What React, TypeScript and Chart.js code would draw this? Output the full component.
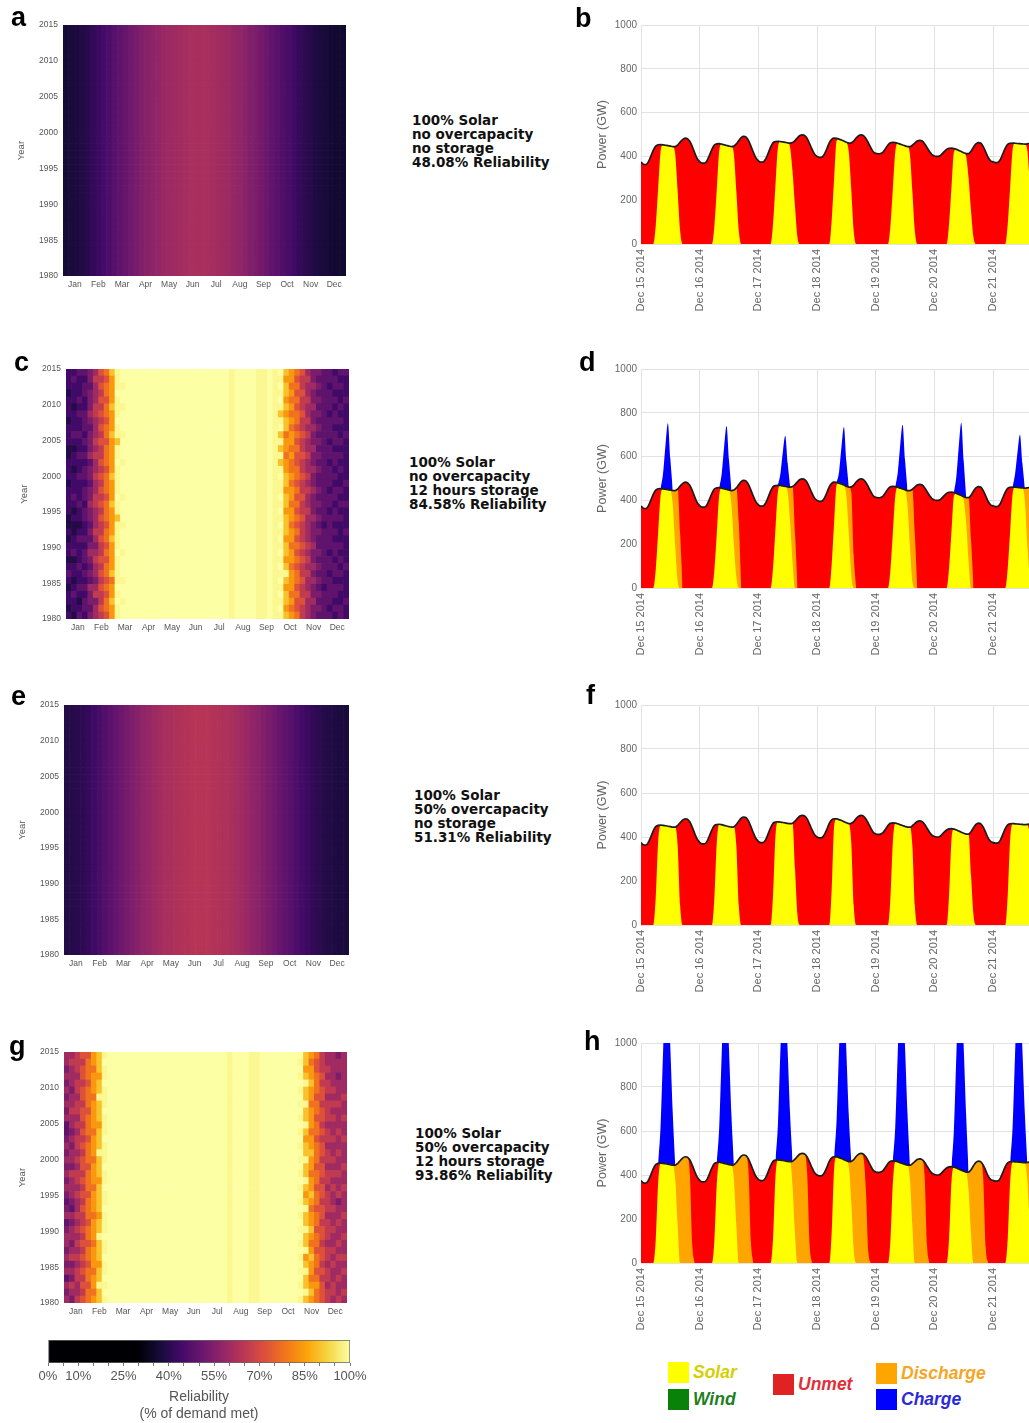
import React, { useEffect, useRef } from "react";
import { Chart, registerables } from "chart.js";

Chart.register(...registerables);
Chart.defaults.font.family = "'Liberation Sans', Arial, Helvetica, sans-serif";

const _ = null;

// ---------------- heatmap data ----------------
const MONTHS = ["Jan", "Feb", "Mar", "Apr", "May", "Jun", "Jul", "Aug", "Sep", "Oct", "Nov", "Dec"];
const YEARS = [
  1980, 1981, 1982, 1983, 1984, 1985, 1986, 1987, 1988, 1989, 1990, 1991,
  1992, 1993, 1994, 1995, 1996, 1997, 1998, 1999, 2000, 2001, 2002, 2003,
  2004, 2005, 2006, 2007, 2008, 2009, 2010, 2011, 2012, 2013, 2014, 2015,
];
const WEEK_LABELS = Array.from({ length: 52 }, (v, i) => `W${i + 1}`);

// weekly reliability (%) profile, no storage, same every year
const WEEKS_A = [
  37, 37.5, 38, 39,
  40, 41.5, 43, 44.5,
  46, 47.5, 49, 50.5, 52,
  53.5, 55, 56, 57,
  58, 59, 59.5, 60,
  60.5, 61, 61.5, 61.5, 61.5,
  61.5, 61, 60.5, 60,
  59.5, 58.5, 57.5, 56.5, 55,
  54, 52.5, 51, 49.5,
  48, 46.5, 45, 43.5,
  42, 40.5, 39.5, 38.5, 37.5,
  37, 36.5, 36, 35.5,
];
const WEEKS_E = [
  39, 39.5, 40, 41,
  42, 43.5, 45, 47,
  48.5, 50, 51.5, 53, 54.5,
  56, 57.5, 58.5, 59.5,
  60.5, 61.5, 62, 62.5,
  63, 63.5, 64, 64, 64,
  64, 63.5, 63, 62.5,
  62, 61, 60, 59, 57.5,
  56.5, 55, 53.5, 52,
  50.5, 49, 47.5, 46,
  44.5, 43, 41.5, 40.5, 39.5,
  39, 38.5, 38, 37.5,
];

// cell levels (character -> reliability %)
const LEVELS: Record<string, number> = {
  "1": 39, "2": 44, "3": 49, "4": 54, "5": 60, "6": 66,
  "7": 72, "8": 78, "9": 84, a: 90, b: 98.6, c: 100,
};

const MID_C1 = "cccccccccccccccccccc" + "b" + "cccc" + "bb" + "c" + "b";
const MID_C2 = "bccccccccccccccccccc" + "b" + "cccc" + "bb" + "c" + "b";
// rows 1980 -> 2015, 52 weekly cells each
const C_ROWS = [
  "213245679b" + MID_C1 + "ba98654333232",
  "122335789b" + MID_C1 + "c987654432332",
  "22134468ac" + MID_C2 + "ba97755333223",
  "232246679b" + MID_C1 + "ca88664433322",
  "123355789c" + MID_C1 + "b997654323332",
  "212234678b" + MID_C2 + "ca98755433222",
  "32234578ab" + MID_C1 + "bb98664332332",
  "223235689b" + MID_C1 + "ca87655433323",
  "112346779b" + MID_C1 + "b998764333232",
  "232355689c" + MID_C2 + "ca97654432322",
  "222244679b" + MID_C1 + "ba88765333332",
  "12333578ab" + MID_C1 + "c997654333222",
  "212246689b" + MID_C1 + "ba98654433323",
  "111235679b" + MID_C2 + "ca87654323222",
  "122345789a" + MID_C1 + "ba98755433332",
  "212345689b" + MID_C1 + "c997664332322",
  "22325678ab" + MID_C1 + "ba88654433233",
  "232346679c" + MID_C2 + "ca97754333322",
  "222345789b" + MID_C1 + "b998665432332",
  "122235689b" + MID_C1 + "ba87654333223",
  "22334678ab" + MID_C1 + "ca98764333322",
  "212345679b" + MID_C1 + "b988655433232",
  "222235789c" + MID_C2 + "a987654332322",
  "123356689b" + MID_C1 + "b897764433332",
  "112245689b" + MID_C1 + "a988655333222",
  "222346779a" + MID_C1 + "b997654432332",
  "23324568ab" + MID_C2 + "a898764333323",
  "222335789b" + MID_C1 + "ca87655433222",
  "122345679c" + MID_C1 + "ba98664333332",
  "223356789b" + MID_C1 + "a988754432322",
  "21224668ab" + MID_C2 + "ba97655333232",
  "223245779b" + MID_C1 + "c988664433323",
  "122345689c" + MID_C1 + "ba97754333222",
  "222335789b" + MID_C2 + "ca88655432332",
  "232246679b" + MID_C1 + "b997664333322",
  "22334578ab" + MID_C1 + "ca98754433233",
];

const MID_G = "cccccccccccccccccccccc" + "b" + "ccc" + "bb" + "ccccccc";
const G_ROWS = [
  "546789ab" + MID_G + "ba9876565",
  "455688ac" + MID_G + "cba876656",
  "565779bb" + MID_G + "ba9975655",
  "346689ac" + MID_G + "ca8866565",
  "556788ab" + MID_G + "bb9776556",
  "4456799b" + MID_G + "ca9865655",
  "566789ac" + MID_G + "b9a876566",
  "455689ab" + MID_G + "cb9776655",
  "546778ab" + MID_G + "ba8865565",
  "555689bc" + MID_G + "ca9876556",
  "456789ab" + MID_G + "bba776655",
  "345679ab" + MID_G + "ca9866565",
  "5566889b" + MID_G + "ba9875556",
  "435789ac" + MID_G + "cb8776655",
  "345689ab" + MID_G + "ba9866545",
  "456779ab" + MID_G + "c9a876565",
  "555688ac" + MID_G + "ba9775656",
  "4567899b" + MID_G + "cb9866555",
  "566689ab" + MID_G + "ba8876665",
  "445779ac" + MID_G + "ca9775556",
  "556788ab" + MID_G + "bb9866655",
  "455689bb" + MID_G + "caa876565",
  "546789ab" + MID_G + "ba9875555",
  "456679ac" + MID_G + "c99766656",
  "345788ab" + MID_G + "ba8876565",
  "3566899b" + MID_G + "cb9865555",
  "555789ab" + MID_G + "ba9776656",
  "466779ac" + MID_G + "ca9876555",
  "556689ab" + MID_G + "bb8866665",
  "455788bb" + MID_G + "ca9775556",
  "546789ab" + MID_G + "ba9876655",
  "456679ac" + MID_G + "cba866555",
  "5557899b" + MID_G + "ba9875545",
  "456788ab" + MID_G + "c99766555",
  "566689ac" + MID_G + "ba8765555",
  "556779ab" + MID_G + "ca9865545",
];

// ---------------- power time series (GW, hourly from Dec 15 2014 00:00) ----------------
const DAY_LABELS = ["Dec 15 2014", "Dec 16 2014", "Dec 17 2014", "Dec 18 2014", "Dec 19 2014", "Dec 20 2014", "Dec 21 2014"];
const DAY_TICKS = [0, 24, 48, 72, 96, 120, 144];

const DEMAND = [
  [374, 364, 363, 375, 400, 428, 447, 453, 454, 453, 451, 449, 447, 445, 445, 452, 465, 477, 483, 481, 468, 444, 415, 390],
  [376, 369, 369, 380, 405, 432, 452, 457, 458, 456, 453, 450, 447, 445, 447, 457, 472, 486, 491, 488, 472, 446, 418, 393],
  [380, 374, 375, 388, 414, 442, 462, 468, 469, 468, 466, 464, 462, 461, 463, 472, 485, 495, 498, 495, 481, 457, 432, 410],
  [400, 396, 397, 410, 435, 462, 478, 483, 482, 479, 475, 470, 465, 461, 462, 470, 484, 494, 498, 495, 482, 462, 440, 421],
  [414, 412, 413, 420, 435, 452, 462, 464, 463, 460, 456, 452, 448, 445, 445, 451, 461, 470, 473, 470, 458, 440, 422, 408],
  [402, 400, 401, 410, 422, 432, 437, 438, 436, 432, 427, 422, 417, 413, 413, 424, 442, 457, 463, 460, 445, 420, 395, 380],
  [375, 372, 373, 386, 412, 438, 455, 460, 461, 460, 459, 458, 457, 456, 457, 460],
].flat();

const SOLAR_B = [
  [0, 0, 0, 0, 0, 0, 80, 250, 420, 453, 451, 449, 447, 445, 410, 240, 60, 0, 0, 0, 0, 0, 0, 0],
  [0, 0, 0, 0, 0, 0, 80, 250, 425, 456, 453, 450, 447, 445, 410, 240, 60, 0, 0, 0, 0, 0, 0, 0],
  [0, 0, 0, 0, 0, 0, 90, 270, 440, 468, 466, 464, 462, 440, 330, 170, 30, 0, 0, 0, 0, 0, 0, 0],
  [0, 0, 0, 0, 0, 0, 110, 300, 470, 479, 475, 470, 465, 420, 250, 60, 0, 0, 0, 0, 0, 0, 0, 0],
  [0, 0, 0, 0, 0, 0, 80, 250, 420, 460, 456, 452, 448, 445, 410, 240, 60, 0, 0, 0, 0, 0, 0, 0],
  [0, 0, 0, 0, 0, 0, 90, 260, 420, 432, 427, 422, 417, 400, 300, 150, 30, 0, 0, 0, 0, 0, 0, 0],
  [0, 0, 0, 0, 0, 0, 90, 260, 430, 460, 459, 458, 457, 456, 430, 280],
].flat();

const SOLAR_D = [
  [0, 0, 0, 0, 0, 0, 80, 250, 420, 453, 451, 449, 447, 380, 190, 30, 0, 0, 0, 0, 0, 0, 0, 0],
  [0, 0, 0, 0, 0, 0, 80, 250, 425, 456, 453, 450, 447, 380, 200, 50, 0, 0, 0, 0, 0, 0, 0, 0],
  [0, 0, 0, 0, 0, 0, 90, 270, 440, 468, 466, 464, 440, 300, 120, 0, 0, 0, 0, 0, 0, 0, 0, 0],
  [0, 0, 0, 0, 0, 0, 110, 300, 470, 479, 475, 470, 420, 250, 60, 0, 0, 0, 0, 0, 0, 0, 0, 0],
  [0, 0, 0, 0, 0, 0, 80, 250, 420, 460, 456, 452, 448, 380, 190, 30, 0, 0, 0, 0, 0, 0, 0, 0],
  [0, 0, 0, 0, 0, 0, 90, 260, 420, 432, 427, 422, 400, 300, 120, 0, 0, 0, 0, 0, 0, 0, 0, 0],
  [0, 0, 0, 0, 0, 0, 90, 260, 430, 460, 459, 458, 457, 400, 200, 40],
].flat();

// top of solar + discharge
const DISCH_D = [
  [_, _, _, _, _, _, _, _, _, _, _, 449, 447, 445, 445, 452, 250, 0, _, _, _, _, _, _],
  [_, _, _, _, _, _, _, _, _, _, _, 450, 447, 445, 447, 457, 300, 0, _, _, _, _, _, _],
  [_, _, _, _, _, _, _, _, _, _, 466, 464, 462, 461, 463, 250, 0, _, _, _, _, _, _, _],
  [_, _, _, _, _, _, _, _, _, _, 475, 470, 465, 461, 440, 150, 0, _, _, _, _, _, _, _],
  [_, _, _, _, _, _, _, _, _, _, _, 452, 448, 445, 445, 451, 250, 0, _, _, _, _, _, _],
  [_, _, _, _, _, _, _, _, _, _, 427, 422, 417, 413, 413, 220, 0, _, _, _, _, _, _, _],
  [_, _, _, _, _, _, _, _, _, _, _, 458, 457, 456, 457, 460],
].flat();

// top of demand + charge
const CHARGE_D = [
  [_, _, _, _, _, _, _, _, 454, 520, 650, 752, 590, 445, _, _, _, _, _, _, _, _, _, _],
  [_, _, _, _, _, _, _, _, 458, 520, 645, 740, 585, 445, _, _, _, _, _, _, _, _, _, _],
  [_, _, _, _, _, _, _, _, 469, 520, 620, 695, 570, 461, _, _, _, _, _, _, _, _, _, _],
  [_, _, _, _, _, _, _, _, 482, 530, 645, 735, 580, 461, _, _, _, _, _, _, _, _, _, _],
  [_, _, _, _, _, _, _, _, 463, 525, 650, 745, 585, 445, _, _, _, _, _, _, _, _, _, _],
  [_, _, _, _, _, _, _, _, 436, 510, 650, 755, 580, 413, _, _, _, _, _, _, _, _, _, _],
  [_, _, _, _, _, _, _, _, 461, 520, 620, 700, 570, 456, _, _],
].flat();

const SOLAR_F = [
  [0, 0, 0, 0, 0, 0, 120, 375, 454, 453, 451, 449, 447, 445, 445, 360, 90, 0, 0, 0, 0, 0, 0, 0],
  [0, 0, 0, 0, 0, 0, 120, 375, 458, 456, 453, 450, 447, 445, 447, 360, 90, 0, 0, 0, 0, 0, 0, 0],
  [0, 0, 0, 0, 0, 0, 135, 405, 469, 468, 466, 464, 462, 461, 463, 255, 45, 0, 0, 0, 0, 0, 0, 0],
  [0, 0, 0, 0, 0, 0, 165, 450, 482, 479, 475, 470, 465, 461, 375, 90, 0, 0, 0, 0, 0, 0, 0, 0],
  [0, 0, 0, 0, 0, 0, 120, 375, 463, 460, 456, 452, 448, 445, 445, 360, 90, 0, 0, 0, 0, 0, 0, 0],
  [0, 0, 0, 0, 0, 0, 135, 390, 436, 432, 427, 422, 417, 413, 413, 225, 45, 0, 0, 0, 0, 0, 0, 0],
  [0, 0, 0, 0, 0, 0, 135, 390, 461, 460, 459, 458, 457, 456, 457, 420],
].flat();

const SOLAR_H = [
  [0, 0, 0, 0, 0, 0, 100, 360, 454, 453, 451, 449, 447, 445, 380, 170, 0, 0, 0, 0, 0, 0, 0, 0],
  [0, 0, 0, 0, 0, 0, 100, 360, 458, 456, 453, 450, 447, 445, 380, 170, 0, 0, 0, 0, 0, 0, 0, 0],
  [0, 0, 0, 0, 0, 0, 110, 390, 469, 468, 466, 464, 462, 461, 350, 130, 0, 0, 0, 0, 0, 0, 0, 0],
  [0, 0, 0, 0, 0, 0, 140, 430, 482, 479, 475, 470, 465, 440, 280, 60, 0, 0, 0, 0, 0, 0, 0, 0],
  [0, 0, 0, 0, 0, 0, 100, 360, 463, 460, 456, 452, 448, 445, 380, 170, 0, 0, 0, 0, 0, 0, 0, 0],
  [0, 0, 0, 0, 0, 0, 110, 370, 436, 432, 427, 422, 417, 413, 330, 130, 0, 0, 0, 0, 0, 0, 0, 0],
  [0, 0, 0, 0, 0, 0, 110, 370, 461, 460, 459, 458, 457, 456, 380, 170],
].flat();

const DISCH_H = [
  [_, _, _, _, _, _, _, _, _, _, _, _, 447, 445, 445, 452, 465, 477, 483, 481, 400, 80, 0, _],
  [_, _, _, _, _, _, _, _, _, _, _, _, 447, 445, 447, 457, 472, 486, 491, 488, 410, 90, 0, _],
  [_, _, _, _, _, _, _, _, _, _, _, _, 462, 461, 463, 472, 485, 495, 498, 495, 400, 80, 0, _],
  [_, _, _, _, _, _, _, _, _, _, _, _, 465, 461, 462, 470, 484, 494, 498, 480, 330, 50, 0, _],
  [_, _, _, _, _, _, _, _, _, _, _, _, 448, 445, 445, 451, 461, 470, 473, 470, 400, 80, 0, _],
  [_, _, _, _, _, _, _, _, _, _, _, _, 417, 413, 413, 424, 442, 457, 463, 460, 380, 70, 0, _],
  [_, _, _, _, _, _, _, _, _, _, _, _, 457, 456, 457, 460],
].flat();

const CHARGE_H = [
  [_, _, _, _, _, _, _, 453, 620, 950, 1250, 1260, 980, 680, 445, _, _, _, _, _, _, _, _, _],
  [_, _, _, _, _, _, _, 457, 620, 950, 1240, 1250, 970, 670, 447, _, _, _, _, _, _, _, _, _],
  [_, _, _, _, _, _, _, 468, 630, 960, 1230, 1230, 960, 670, 463, _, _, _, _, _, _, _, _, _],
  [_, _, _, _, _, _, _, 483, 650, 970, 1250, 1240, 960, 670, 462, _, _, _, _, _, _, _, _, _],
  [_, _, _, _, _, _, _, 464, 620, 950, 1250, 1250, 980, 680, 445, _, _, _, _, _, _, _, _, _],
  [_, _, _, _, _, _, _, 438, 610, 950, 1260, 1260, 980, 670, 413, _, _, _, _, _, _, _, _, _],
  [_, _, _, _, _, _, _, 460, 620, 950, 1250, 1240, 970, 680, 457, _],
].flat();

// colorbar
const CB_LABELS = [0, 10, 25, 40, 55, 70, 85, 100];
const CB_MINOR = [0, 5, 10, 15, 20, 25, 30, 35, 40, 45, 50, 55, 60, 65, 70, 75, 80, 85, 90, 95, 100];

// ---------------- colour helpers ----------------
const INFERNO = ["#000004", "#160b39", "#420a68", "#6a176e", "#932667", "#bc3754", "#dd513a", "#f37819", "#fca50a", "#f6d746", "#fcffa4"];
const CB_FLOOR = 30;

function hexToRgb(h: string) {
  return [parseInt(h.slice(1, 3), 16), parseInt(h.slice(3, 5), 16), parseInt(h.slice(5, 7), 16)];
}
function inferno(t: number) {
  const tt = Math.max(0, Math.min(1, t)) * (INFERNO.length - 1);
  const i = Math.min(INFERNO.length - 2, Math.floor(tt));
  const f = tt - i;
  const a = hexToRgb(INFERNO[i]);
  const b = hexToRgb(INFERNO[i + 1]);
  const c = a.map((v, k) => Math.round(v + (b[k] - v) * f));
  return `rgb(${c[0]},${c[1]},${c[2]})`;
}
function relColor(r: number) {
  if (r < CB_FLOOR) return "#000004";
  return inferno((r - CB_FLOOR) / (100 - CB_FLOOR));
}

const decodeRows = (rows: string[]) => rows.map((r) => r.slice(0, 52).split("").map((ch) => LEVELS[ch] ?? 100));

// ---------------- chart configs ----------------
const AX = "#555";

function heatmapConfig(rows: number[][]): any {
  const n = YEARS.length;
  const span = (YEARS[n - 1] - YEARS[0]) / n;
  const datasets = rows.map((row, i) => ({
    data: row.map(() => [YEARS[0] + i * span, YEARS[0] + (i + 1) * span]),
    backgroundColor: row.map(relColor),
    borderWidth: 0,
    grouped: false,
    barPercentage: 1,
    categoryPercentage: 1,
    xAxisID: "x",
    yAxisID: "y",
  }));
  return {
    type: "bar",
    data: { labels: WEEK_LABELS, datasets },
    options: {
      animation: false,
      responsive: false,
      events: [],
      layout: { padding: { top: 10, left: 0, right: 0, bottom: 0 } },
      plugins: { legend: { display: false }, tooltip: { enabled: false } },
      scales: {
        x: { type: "category", display: false, offset: true, grid: { display: false, drawTicks: false } },
        xm: {
          type: "category",
          labels: MONTHS,
          position: "bottom",
          offset: true,
          grid: { display: false, drawTicks: false },
          border: { display: false },
          ticks: { font: { size: 8.5 }, color: AX, padding: 4, autoSkip: false, maxRotation: 0 },
          afterFit: (s: any) => { s.height = 20; },
        },
        y: {
          type: "linear",
          min: YEARS[0],
          max: YEARS[n - 1],
          grid: { display: false, drawTicks: false },
          border: { display: false },
          ticks: { stepSize: 5, font: { size: 8.5 }, color: AX, padding: 5, callback: (v: any) => String(v) },
          title: { display: true, text: "Year", font: { size: 9.5 }, color: AX, padding: { top: 8, bottom: 0 } },
          afterFit: (s: any) => { s.width = 55; },
        },
      },
    },
  };
}

const xy = (arr: (number | null)[]) => arr.map((v, i) => ({ x: i, y: v }));

function areaSet(label: string, arr: (number | null)[], color: string, order: number) {
  return {
    label,
    data: xy(arr),
    fill: "origin",
    backgroundColor: color,
    borderColor: "rgba(0,0,0,0)",
    borderWidth: 0,
    pointRadius: 0,
    pointHoverRadius: 0,
    cubicInterpolationMode: "monotone",
    spanGaps: false,
    order,
  };
}

function powerConfig(solar: number[], disch: (number | null)[] | null, charge: (number | null)[] | null): any {
  const datasets: any[] = [];
  if (charge) datasets.push(areaSet("Charge", charge, "#0000ff", 5));
  datasets.push(areaSet("Unmet", DEMAND, "#ff0000", 4));
  if (disch) datasets.push(areaSet("Discharge", disch, "#ffa500", 3));
  datasets.push(areaSet("Solar", solar, "#ffff00", 2));
  datasets.push({
    label: "Demand",
    data: xy(DEMAND),
    fill: false,
    borderColor: "#1c1c1c",
    borderWidth: 1.7,
    pointRadius: 0,
    pointHoverRadius: 0,
    cubicInterpolationMode: "monotone",
    order: 1,
  });
  return {
    type: "line",
    data: { datasets },
    options: {
      animation: false,
      responsive: false,
      events: [],
      layout: { padding: { top: 10, left: 0, right: 0, bottom: 0 } },
      plugins: { legend: { display: false }, tooltip: { enabled: false } },
      scales: {
        x: {
          type: "linear",
          min: 0,
          max: 158.7,
          afterBuildTicks: (s: any) => { s.ticks = DAY_TICKS.map((v) => ({ value: v })); },
          ticks: {
            callback: (v: any, i: number) => DAY_LABELS[i],
            minRotation: 90,
            maxRotation: 90,
            autoSkip: false,
            font: { size: 11 },
            color: "#666",
            padding: 5,
          },
          grid: { color: "#e2e2e2", drawTicks: false },
          border: { display: false },
          afterFit: (s: any) => { s.height = 70; },
        },
        y: {
          type: "linear",
          min: 0,
          max: 1000,
          ticks: { stepSize: 200, font: { size: 10 }, color: "#666", padding: 4, callback: (v: any) => String(v) },
          grid: { color: "#e2e2e2", drawTicks: false },
          border: { display: false },
          title: { display: true, text: "Power (GW)", font: { size: 12.5 }, color: "#666", padding: { top: 4, bottom: 0 } },
          afterFit: (s: any) => { s.width = 50; },
        },
      },
    },
  };
}

function colorbarConfig(): any {
  return {
    type: "bar",
    data: {
      labels: [""],
      datasets: [
        {
          data: [[0, 100]],
          backgroundColor: (ctx: any) => {
            const chart = ctx.chart;
            const area = chart.chartArea;
            if (!area) return "#000";
            const g = chart.ctx.createLinearGradient(area.left, 0, area.right, 0);
            g.addColorStop(0, "#000004");
            g.addColorStop(CB_FLOOR / 100, "#000004");
            INFERNO.forEach((c, k) => {
              g.addColorStop((CB_FLOOR + ((100 - CB_FLOOR) * k) / (INFERNO.length - 1)) / 100, c);
            });
            return g;
          },
          borderColor: "#666",
          borderWidth: 1,
          borderSkipped: false,
          barPercentage: 1,
          categoryPercentage: 1,
        },
      ],
    },
    options: {
      indexAxis: "y",
      animation: false,
      responsive: false,
      events: [],
      layout: { padding: { top: 5, left: 18, right: 25, bottom: 0 } },
      plugins: { legend: { display: false }, tooltip: { enabled: false } },
      scales: {
        y: { display: false },
        x: {
          type: "linear",
          min: 0,
          max: 100,
          afterBuildTicks: (s: any) => { s.ticks = CB_MINOR.map((v) => ({ value: v })); },
          ticks: {
            callback: (v: any) => (CB_LABELS.includes(v) ? `${v}%` : ""),
            autoSkip: false,
            maxRotation: 0,
            font: { size: 13 },
            color: AX,
            padding: 3,
          },
          grid: { display: true, drawOnChartArea: false, drawTicks: true, tickLength: 3, color: "#777" },
          border: { display: false },
          title: {
            display: true,
            text: ["Reliability", "(% of demand met)"],
            font: { size: 14, lineHeight: 1.25 },
            color: AX,
            padding: { top: 2, bottom: 0 },
          },
          afterFit: (s: any) => { s.height = 60; },
        },
      },
    },
  };
}

// ---------------- components ----------------
function ChartBox({ make, left, top, width, height }: { make: () => any; left: number; top: number; width: number; height: number }) {
  const ref = useRef<HTMLCanvasElement>(null);
  useEffect(() => {
    if (!ref.current) return;
    const chart = new Chart(ref.current, make());
    return () => chart.destroy();
  }, []);
  return (
    <canvas
      ref={ref}
      width={width}
      height={height}
      style={{ position: "absolute", left, top, width, height, display: "block" }}
    />
  );
}

const PANEL_LETTERS = [
  { t: "a", left: 11, top: 4 },
  { t: "b", left: 575, top: 5 },
  { t: "c", left: 14, top: 349 },
  { t: "d", left: 579, top: 349 },
  { t: "e", left: 11, top: 683 },
  { t: "f", left: 586, top: 682 },
  { t: "g", left: 9, top: 1033 },
  { t: "h", left: 584, top: 1028 },
];

const SCENARIOS = [
  { left: 412, top: 113, lines: ["100% Solar", "no overcapacity", "no storage", "48.08% Reliability"] },
  { left: 409, top: 455, lines: ["100% Solar", "no overcapacity", "12 hours storage", "84.58% Reliability"] },
  { left: 414, top: 788, lines: ["100% Solar", "50% overcapacity", "no storage", "51.31% Reliability"] },
  { left: 415, top: 1126, lines: ["100% Solar", "50% overcapacity", "12 hours storage", "93.86% Reliability"] },
];

const LEGEND = [
  { label: "Solar", box: "#ffff00", text: "#d6cf00", left: 668, top: 1362 },
  { label: "Wind", box: "#0a820a", text: "#1f7f1f", left: 668, top: 1389 },
  { label: "Unmet", box: "#e02222", text: "#e0303a", left: 773, top: 1374 },
  { label: "Discharge", box: "#ffa500", text: "#f5a623", left: 876, top: 1363 },
  { label: "Charge", box: "#0000ff", text: "#2a2ad8", left: 876, top: 1389 },
];

export default function App() {
  const rowsA = YEARS.map(() => WEEKS_A);
  const rowsE = YEARS.map(() => WEEKS_E);
  const rowsC = decodeRows(C_ROWS);
  const rowsG = decodeRows(G_ROWS);
  return (
    <div style={{ position: "absolute", left: 0, top: 0, width: 1029, height: 1423, overflow: "hidden", background: "#fff" }}>
      <ChartBox make={() => heatmapConfig(rowsA)} left={8} top={15} width={338} height={281} />
      <ChartBox make={() => heatmapConfig(rowsC)} left={11} top={359} width={338} height={280} />
      <ChartBox make={() => heatmapConfig(rowsE)} left={9} top={695} width={340} height={280} />
      <ChartBox make={() => heatmapConfig(rowsG)} left={9} top={1042} width={338} height={281} />

      <ChartBox make={() => powerConfig(SOLAR_B, null, null)} left={591} top={15} width={438} height={299} />
      <ChartBox make={() => powerConfig(SOLAR_D, DISCH_D, CHARGE_D)} left={591} top={359} width={438} height={299} />
      <ChartBox make={() => powerConfig(SOLAR_F, null, null)} left={591} top={695} width={438} height={300} />
      <ChartBox make={() => powerConfig(SOLAR_H, DISCH_H, CHARGE_H)} left={591} top={1033} width={438} height={300} />

      <ChartBox make={colorbarConfig} left={30} top={1335} width={345} height={88} />

      {PANEL_LETTERS.map((p) => (
        <div
          key={p.t}
          style={{
            position: "absolute",
            left: p.left,
            top: p.top,
            font: "bold 27px 'Liberation Sans', Arial, sans-serif",
            lineHeight: "27px",
            color: "#000",
          }}
        >
          {p.t}
        </div>
      ))}

      {SCENARIOS.map((s, i) => (
        <div
          key={i}
          style={{
            position: "absolute",
            left: s.left,
            top: s.top,
            font: "bold 13.5px 'DejaVu Sans', Verdana, sans-serif",
            lineHeight: "14px",
            color: "#111",
            whiteSpace: "pre",
          }}
        >
          {s.lines.map((l, k) => (
            <div key={k}>{l}</div>
          ))}
        </div>
      ))}

      {LEGEND.map((l) => (
        <div key={l.label} style={{ position: "absolute", left: l.left, top: l.top, display: "flex", alignItems: "center", height: 21 }}>
          <div style={{ width: 21, height: 21, background: l.box }} />
          <div
            style={{
              marginLeft: 4,
              font: "italic bold 17.5px 'Liberation Sans', Arial, sans-serif",
              color: l.text,
            }}
          >
            {l.label}
          </div>
        </div>
      ))}
    </div>
  );
}
